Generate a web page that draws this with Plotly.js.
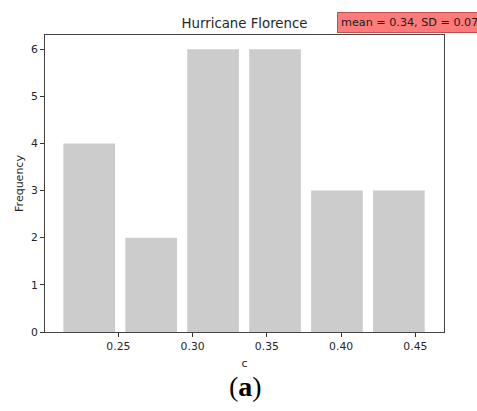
<!DOCTYPE html>
<html>
<head>
<meta charset="utf-8">
<script src="https://cdn.plot.ly/plotly-3.0.1.min.js"></script>
<style>html,body{margin:0;padding:0;background:#fff;}#chart{width:477px;height:411px;}</style>
</head>
<body>
<div id="chart"></div>
<script>
// Data
const binCenters = [0.2304, 0.2721, 0.3138, 0.3555, 0.3972, 0.4389];
const frequencies = [4, 2, 6, 6, 3, 3];
const xTickVals = [0.25, 0.30, 0.35, 0.40, 0.45];
const xTickText = ["0.25", "0.30", "0.35", "0.40", "0.45"];
const yTickVals = [0, 1, 2, 3, 4, 5, 6];
const titleText = "Hurricane Florence";
const statsText = "mean = 0.34, SD = 0.07";
const panelLabel = "(<b>a</b>)";

const font = "DejaVu Sans, sans-serif";

const trace = {
  type: "bar",
  x: binCenters,
  y: frequencies,
  width: 0.0348,
  marker: {color: "#cccccc", line: {width: 0}},
  hoverinfo: "skip"
};

const layout = {
  width: 477, height: 411,
  paper_bgcolor: "#ffffff", plot_bgcolor: "#ffffff",
  margin: {l: 45, r: 33, t: 35, b: 79, pad: 0},
  showlegend: false,
  font: {family: font, size: 11, color: "#262626"},
  title: {text: titleText, font: {family: font, size: 13.3, color: "#262626"},
          x: 0.5, xanchor: "center", xref: "paper", y: 1 - 23 / 411, yanchor: "middle"},
  xaxis: {
    range: [0.2006, 0.4693], tickvals: xTickVals, ticktext: xTickText,
    ticks: "outside", ticklen: 4, tickwidth: 1, tickcolor: "#333",
    showline: true, linecolor: "#444", linewidth: 1, mirror: true,
    showgrid: false, zeroline: false,
    tickfont: {family: font, size: 10.8, color: "#262626"},
    title: {text: "c", font: {family: font, size: 11, color: "#262626"}, standoff: 7}
  },
  yaxis: {
    range: [0, 6.3], tickvals: yTickVals,
    ticks: "outside", ticklen: 4, tickwidth: 1, tickcolor: "#333",
    showline: true, linecolor: "#444", linewidth: 1, mirror: true,
    showgrid: false, zeroline: false,
    tickfont: {family: font, size: 10.8, color: "#262626"},
    title: {text: "Frequency", font: {family: font, size: 11, color: "#262626"}, standoff: 5}
  },
  annotations: [
    {
      text: statsText, xref: "paper", yref: "paper",
      x: (337 - 45) / 399, xanchor: "left",
      y: 1 + (35 - 22.5) / 297, yanchor: "middle",
      width: 150, align: "left",
      showarrow: false,
      font: {family: font, size: 11.2, color: "#1a1a1a"},
      bgcolor: "#ff7b7b", bordercolor: "#c05050", borderwidth: 1, borderpad: 3
    },
    {
      text: panelLabel, xref: "paper", yref: "paper",
      x: (245 - 45) / 399, xanchor: "center",
      y: -(386 - 332) / 297, yanchor: "middle",
      showarrow: false,
      font: {family: "Liberation Serif, serif", size: 28, color: "#000"}
    }
  ]
};

Plotly.newPlot("chart", [trace], layout, {staticPlot: true, displayModeBar: false});
</script>
</body>
</html>
